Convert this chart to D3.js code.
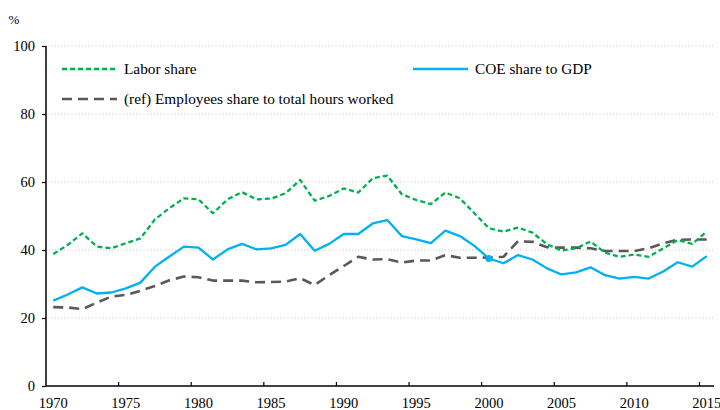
<!DOCTYPE html>
<html>
<head>
<meta charset="utf-8">
<script src="https://cdn.jsdelivr.net/npm/d3@7"></script>
<style>
  svg text { font-family: 'Liberation Serif' !important; }
</style>
</head>
<body style="margin:0;background:#fff;">
<script>
var years = d3.range(1970, 2016);

var laborShare = [38.8, 41.5, 44.9, 41.0, 40.5, 42.0, 43.4, 49.0, 52.3, 55.2,
  54.9, 50.8, 54.9, 57.0, 54.9, 55.1, 56.7, 60.6, 54.5, 55.9,
  58.1, 56.9, 61.1, 61.9, 56.4, 54.7, 53.5, 56.9, 55.2, 50.8,
  46.4, 45.4, 46.6, 45.1, 41.7, 39.8, 40.5, 42.5, 39.2, 38.0,
  38.7, 38.0, 40.5, 42.9, 41.8, 45.4];

var coeShare = [25.1, 26.9, 29.0, 27.2, 27.5, 28.7, 30.4, 35.1, 38.1, 41.0,
  40.7, 37.2, 40.2, 41.8, 40.2, 40.5, 41.5, 44.7, 39.8, 41.8,
  44.7, 44.7, 47.8, 48.8, 44.1, 43.1, 42.0, 45.7, 44.1, 41.2,
  37.5, 36.1, 38.5, 37.2, 34.6, 32.8, 33.4, 34.9, 32.6, 31.6,
  32.1, 31.6, 33.7, 36.4, 35.1, 38.2];

var empShare = [23.2, 23.1, 22.6, 24.5, 26.3, 26.8, 28.0, 29.4, 31.1, 32.2,
  32.0, 31.0, 31.0, 31.0, 30.5, 30.6, 30.7, 31.7, 29.7, 32.6,
  35.3, 38.0, 37.2, 37.3, 36.3, 36.9, 36.9, 38.5, 37.7, 37.7,
  37.8, 38.0, 42.6, 42.4, 40.8, 40.7, 40.7, 40.5, 39.7, 39.7,
  39.7, 40.5, 42.0, 43.0, 43.1, 43.1];

var markerYears = [2000];
var yTicks = [0, 20, 40, 60, 80, 100];
var xTickYears = [1970, 1975, 1980, 1985, 1990, 1995, 2000, 2005, 2010, 2015];

var svgWidth = 720;
var svgHeight = 410;
var margin = { top: 46, right: 6, bottom: 24, left: 46 };
var serif = "'Liberation Serif'";

var svg = d3.select("body")
  .append("svg")
  .attr("width", svgWidth)
  .attr("height", svgHeight)
  .style("display", "block");

// category axis like the original: points sit in the middle of each year slot
var x = d3.scaleBand()
  .domain(years)
  .range([margin.left, svgWidth - margin.right])
  .padding(0);

var y = d3.scaleLinear()
  .domain([0, 100])
  .range([svgHeight - margin.bottom, margin.top]);

var cx = function(yr) { return x(yr) + x.bandwidth() / 2; };

// gridlines
svg.append("g")
  .selectAll("line")
  .data(yTicks.filter(function(d) { return d > 0; }))
  .enter()
  .append("line")
  .attr("x1", margin.left)
  .attr("x2", svgWidth - margin.right)
  .attr("y1", function(d) { return y(d); })
  .attr("y2", function(d) { return y(d); })
  .attr("stroke", "#c8c8c8")
  .attr("stroke-width", 1)
  .attr("stroke-dasharray", "1,2");

// y axis
var leftAxis = d3.axisLeft(y).tickValues(yTicks).tickSize(4).tickPadding(7);
var yAxis = svg.append("g")
  .attr("transform", "translate(" + margin.left + ",0)")
  .call(leftAxis)
  .attr("font-family", null);
yAxis.select(".domain").attr("stroke", "#000").attr("stroke-width", 1.5).attr("d", "M0," + y(100) + "V" + y(0));
yAxis.selectAll(".tick line").attr("stroke", "#000").attr("stroke-width", 1.2);
yAxis.selectAll("text")
  .attr("fill", "#000")
  .style("font-family", serif)
  .style("font-size", "14.5px");

// x axis: baseline, ticks at slot edges, labels at slot centres
svg.append("line")
  .attr("x1", margin.left)
  .attr("x2", svgWidth - margin.right)
  .attr("y1", y(0))
  .attr("y2", y(0))
  .attr("stroke", "#000")
  .attr("stroke-width", 1.5);

svg.append("g")
  .selectAll("line")
  .data(xTickYears.slice(1))
  .enter()
  .append("line")
  .attr("x1", function(d) { return x(d); })
  .attr("x2", function(d) { return x(d); })
  .attr("y1", y(0))
  .attr("y2", y(0) - 4)
  .attr("stroke", "#000")
  .attr("stroke-width", 1.2);

svg.append("g")
  .selectAll("text")
  .data(xTickYears)
  .enter()
  .append("text")
  .attr("x", function(d) { return cx(d); })
  .attr("y", 408)
  .attr("text-anchor", "middle")
  .style("font-family", serif)
  .style("font-size", "14.5px")
  .text(function(d) { return d; });

// unit label
svg.append("text")
  .attr("x", 14)
  .attr("y", 24)
  .attr("text-anchor", "middle")
  .style("font-family", serif)
  .style("font-size", "13px")
  .text("%");

// lines
var series = [
  { name: "(ref) Employees share to total hours worked", values: empShare, color: "#595959", width: 2.6, dash: "10,6" },
  { name: "COE share to GDP", values: coeShare, color: "#00b0f0", width: 2.3, dash: null },
  { name: "Labor share", values: laborShare, color: "#00b050", width: 2.3, dash: "5,3" }
];

var line = d3.line()
  .x(function(d, i) { return cx(years[i]); })
  .y(function(d) { return y(d); });

series.forEach(function(s) {
  svg.append("path")
    .datum(s.values)
    .attr("fill", "none")
    .attr("stroke", s.color)
    .attr("stroke-width", s.width)
    .attr("stroke-linejoin", "round")
    .attr("stroke-dasharray", s.dash)
    .attr("d", line);
});

// single marker on the COE line
svg.selectAll(".coeMarker")
  .data(markerYears)
  .enter()
  .append("circle")
  .attr("class", "coeMarker")
  .attr("cx", function(d) { return cx(d); })
  .attr("cy", function(d) { return y(coeShare[years.indexOf(d)]); })
  .attr("r", 3.5)
  .attr("fill", "#00b0f0");

// legend
var legendItems = [
  { s: series[2], x: 62, y: 69 },
  { s: series[1], x: 413, y: 69 },
  { s: series[0], x: 62, y: 99 }
];

var legend = svg.append("g");
legendItems.forEach(function(item) {
  legend.append("line")
    .attr("x1", item.x)
    .attr("x2", item.x + 55)
    .attr("y1", item.y)
    .attr("y2", item.y)
    .attr("stroke", item.s.color)
    .attr("stroke-width", item.s.width)
    .attr("stroke-dasharray", item.s.dash);
  legend.append("text")
    .attr("x", item.x + 62)
    .attr("y", item.y)
    .attr("dy", "0.35em")
    .style("font-family", serif)
    .style("font-size", "15.3px")
    .text(item.s.name);
});
</script>
</body>
</html>
